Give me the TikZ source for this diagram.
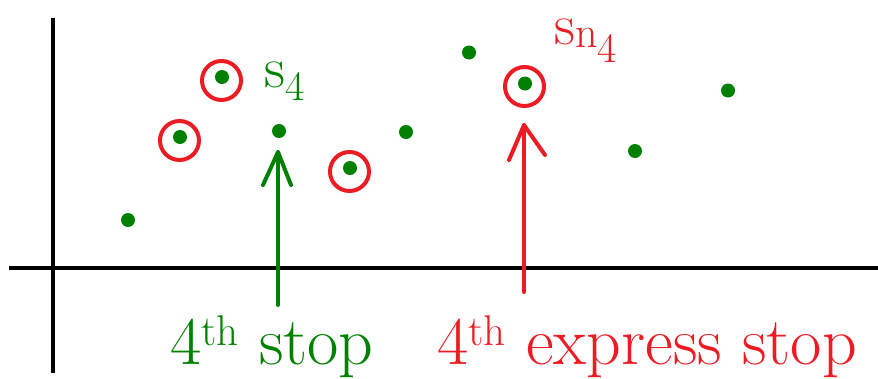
\documentclass[tikz,border=0pt]{standalone}
\usepackage{fontspec}
\usetikzlibrary{calc}
\definecolor{dgreen}{RGB}{0,128,0}
\definecolor{rred}{RGB}{237,28,36}
\newcommand{\supth}{\raisebox{19pt}{\fontsize{43}{46}\selectfont th}}
\begin{document}
\begin{tikzpicture}[x=1pt,y=-1pt,
  dot/.style={circle,fill=dgreen,inner sep=0pt,minimum size=14pt},
  ring/.style={circle,draw=rred,line width=4pt,inner sep=0pt,minimum size=39pt},
  axis/.style={line width=4pt,black},
  arr/.style={line width=4pt,line cap=round,line join=round},
  big/.style={font=\fontsize{68}{76}\selectfont,inner sep=0pt}]
\useasboundingbox (0,0) rectangle (878,378);
% axes
\coordinate (vt) at (53,18);
\coordinate (vb) at (53,373);
\coordinate (hl) at (9,267.5);
\coordinate (hr) at (878,267.5);
\draw[axis] (vt) -- (vb);
\draw[axis] (hl) -- (hr);
% dots
\node[dot] (d1) at (128,220) {};
\node[dot] (d2) at (180,137) {};
\node[dot] (d3) at (222,77) {};
\node[dot] (d4) at (279,131) {};
\node[dot] (d5) at (350,168) {};
\node[dot] (d6) at (406,132) {};
\node[dot] (d7) at (469,52.5) {};
\node[dot] (d8) at (525,83.5) {};
\node[dot] (d9) at (635,151) {};
\node[dot] (d10) at (728,90.5) {};
% rings
\node[ring] (r2) at (179.5,140.5) {};
\node[ring] (r3) at (221.5,80.5) {};
\node[ring] (r5) at (349.5,171.5) {};
\node[ring] (r8) at (524.5,86.5) {};
% green arrow
\coordinate (gb) at (278,305);
\coordinate (gt) at (278,152);
\draw[arr,dgreen] (gb) -- (gt);
\draw[arr,dgreen] ($(gt)+(-15,33)$) -- (gt) -- ($(gt)+(13,33)$);
% red arrow
\coordinate (rb) at (524,292);
\coordinate (rt) at (524,125);
\draw[arr,rred] (rb) -- (rt);
\draw[arr,rred] ($(rt)+(-15,35)$) -- (rt) -- ($(rt)+(21,30)$);
% labels
\node[anchor=base west,inner sep=0pt,text=dgreen,font=\fontsize{58}{62}\selectfont] (ls4) at (264,87)
  {s\raisebox{-13pt}{\fontsize{42}{44}\selectfont 4}};
\node[anchor=base west,inner sep=0pt,text=rred,font=\fontsize{58}{62}\selectfont] (lsn4) at (554,44)
  {s\raisebox{-3pt}{\fontsize{44}{46}\selectfont n}\raisebox{-18pt}{\fontsize{42}{44}\selectfont 4}};
\node[big,anchor=base west,text=dgreen] (lg) at (170,364) {4\supth{} stop};
\node[big,anchor=base west,text=rred] (lr) at (437,364) {4\supth{} express stop};
\end{tikzpicture}
\end{document}
